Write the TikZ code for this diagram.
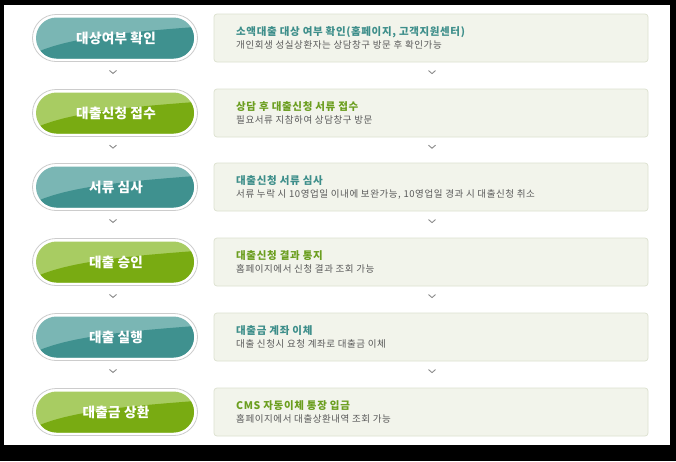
\documentclass[tikz,border=0pt]{standalone}
\usepackage{fontspec}
\newfontfamily\kr{Noto Sans CJK KR}
\newfontfamily\krpill{Noto Sans CJK KR}[LetterSpace=2]
\newfontfamily\krtitle{Noto Sans CJK KR}[LetterSpace=6]
\newfontfamily\krsub{Noto Sans CJK KR}[LetterSpace=6]
\usetikzlibrary{calc}
\definecolor{tealdark}{HTML}{3F918F}
\definecolor{teallight}{HTML}{7AB6B4}
\definecolor{greendark}{HTML}{79AB12}
\definecolor{greenlight}{HTML}{A8CC62}
\definecolor{tealtitle}{HTML}{3D8E8A}
\definecolor{greentitle}{HTML}{6B9E1F}
\definecolor{subgray}{HTML}{5A5A5A}
\definecolor{boxfill}{HTML}{F2F4EB}
\definecolor{boxline}{HTML}{DCE1CF}
\definecolor{chev}{HTML}{8A8A8A}
\tikzset{
  pillouter/.style={draw=black!20, fill=white, line width=0.8pt, minimum width=165pt, minimum height=47pt, rounded corners=23.5pt, inner sep=0pt},
  pilltext/.style={text=white, font=\krpill\bfseries\fontsize{13.6}{16}\selectfont, inner sep=0pt},
  infobox/.style={draw=boxline, fill=boxfill, line width=0.7pt, minimum width=434pt, minimum height=48pt, rounded corners=3pt, inner sep=0pt},
  boxtitle/.style={anchor=west, font=\krtitle\bfseries\fontsize{10.5}{12}\selectfont, inner sep=0pt},
  boxsub/.style={anchor=west, text=subgray, font=\krsub\fontsize{9.5}{11}\selectfont, inner sep=0pt},
  chevline/.style={draw=chev, line width=0.9pt}
}
\newcommand\flowrow[8]{%
  \node[pillouter] (p#1) at (115,#2) {};
  \begin{scope}
    \clip[rounded corners=20.5pt] (36,#2-20.5) rectangle (194,#2+20.5);
    \fill[#4] (35,#2-21) rectangle (195,#2+21);
    \fill[#3] (35,#2+21) -- (35,#2+15) .. controls (70,#2-1) and (130,#2-6) .. (195,#2-11) -- (195,#2+21) -- cycle;
  \end{scope}
  \node[pilltext] (t#1) at (116,#2) {#6};
  \node[infobox] (b#1) at (431,#2) {};
  \node[boxtitle, text=#5] (bt#1) at (236,#2-6) {#7};
  \node[boxsub] (bs#1) at (236,#2+7) {#8};
}
\newcommand\chevat[1]{%
  \draw[chevline] ($(#1)+(-3.5,-1.5)$) -- ($(#1)+(0,1.5)$) -- ($(#1)+(3.5,-1.5)$);
}
\begin{document}
\begin{tikzpicture}[x=1pt,y=-1pt]
\fill[black] (0,0) rectangle (676,461);
\fill[white] (4,5) rectangle (670,445);
\useasboundingbox (0,0) rectangle (676,461);
\flowrow{1}{38}{tealdark}{teallight}{tealtitle}{대상여부 확인}{소액대출 대상 여부 확인(홈페이지, 고객지원센터)}{개인회생 성실상환자는 상담창구 방문 후 확인가능}
\flowrow{2}{113}{greendark}{greenlight}{greentitle}{대출신청 접수}{상담 후 대출신청 서류 접수}{필요서류 지참하여 상담창구 방문}
\flowrow{3}{187}{tealdark}{teallight}{tealtitle}{서류 심사}{대출신청 서류 심사}{서류 누락 시 10영업일 이내에 보완가능, 10영업일 경과 시 대출신청 취소}
\flowrow{4}{262}{greendark}{greenlight}{greentitle}{대출 승인}{대출신청 결과 통지}{홈페이지에서 신청 결과 조회 가능}
\flowrow{5}{337}{tealdark}{teallight}{tealtitle}{대출 실행}{대출금 계좌 이체}{대출 신청시 요청 계좌로 대출금 이체}
\flowrow{6}{412}{greendark}{greenlight}{greentitle}{대출금 상환}{CMS 자동이체 통장 입금}{홈페이지에서 대출상환내역 조회 가능}
\foreach \i/\j in {1/2,2/3,3/4,4/5,5/6}{
  \coordinate (cl\i) at ($(p\i.south)!0.37!(p\j.north)+(-2,0)$);
  \coordinate (cr\i) at ($(b\i.south)!0.37!(b\j.north)+(1,0)$);
  \chevat{cl\i}
  \chevat{cr\i}
}
\end{tikzpicture}
\end{document}
